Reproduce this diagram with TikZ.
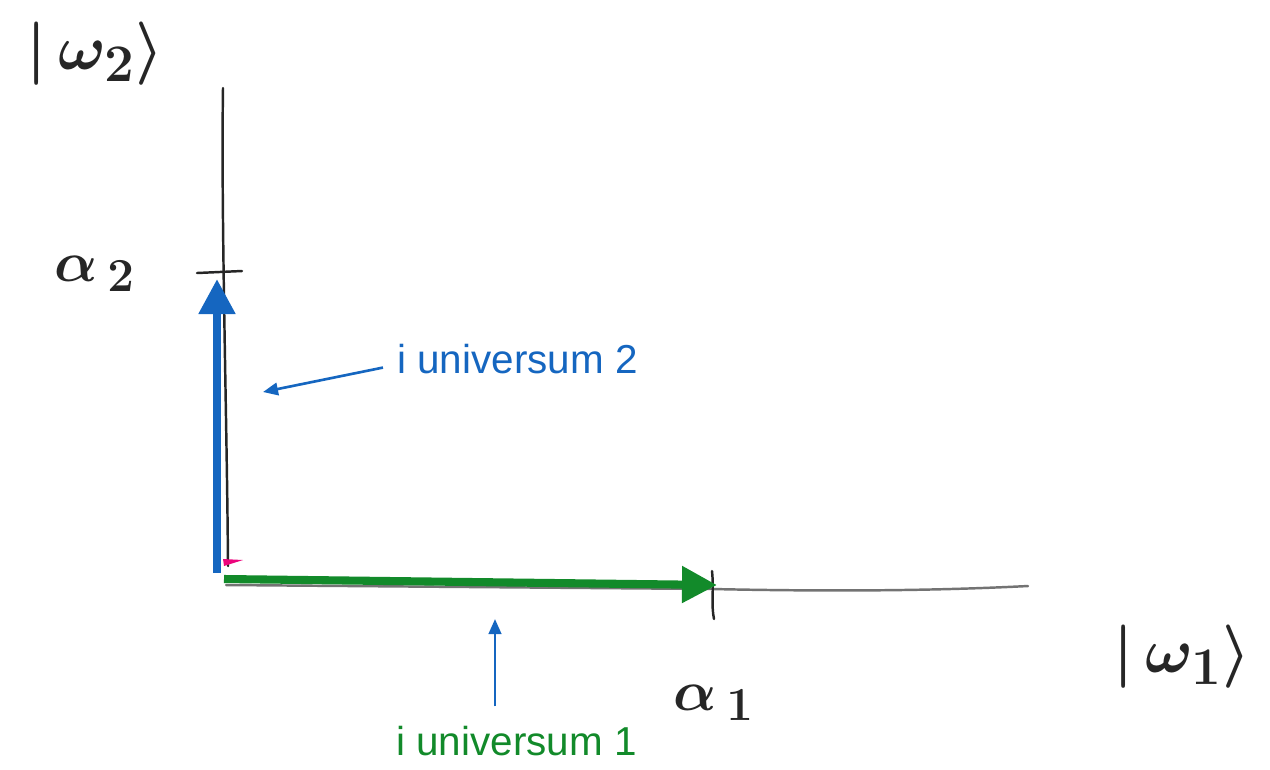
\documentclass[tikz,border=0pt]{standalone}
\usepackage{graphicx}
\usepackage{fontspec}
\newfontfamily\notefont{Liberation Sans}
\usetikzlibrary{arrows.meta}
\definecolor{uniblue}{RGB}{21,102,192}
\definecolor{unigreen}{RGB}{18,138,42}
\newcommand{\handtext}[2][1.45]{\scalebox{#1}{$#2$}}
\tikzset{
  axisline/.style={line width=1.4pt, black!85, line cap=round},
  flatline/.style={line width=1.4pt, black!55, line cap=round},
  vec/.style={line width=4.6pt, -{Triangle[length=0.7cm,width=0.7cm]}},
  note/.style={font=\notefont\fontsize{23}{27}\selectfont, inner sep=0pt, anchor=base west},
  pointer/.style={line width=1.5pt, uniblue, -{Triangle[length=0.3cm,width=0.25cm]}},
  hand/.style={font=\Huge\boldmath, inner sep=0pt, black!85},
}
\begin{document}
\begin{tikzpicture}[x=0.02cm, y=-0.02cm]
\useasboundingbox (0,0) rectangle (1270,769);
% Achsen
\coordinate (ytop) at (223,88);
\coordinate (ybot) at (228,566);
\coordinate (xleft) at (226,585);
\coordinate (xright) at (1028,586);
\draw[axisline] (ytop) .. controls (221,220) and (227,420) .. (ybot);
\draw[flatline] (xleft) -- (712,589) .. controls (850,592) and (950,590) .. (xright);
% Markierungen
\draw[axisline] (197,273) -- (242,271);
\draw[axisline] (712,571) .. controls (714,590) and (711,605) .. (714,619);
\fill[magenta!85!red] (223,559) -- (243,560) -- (224,566) -- cycle;
% Vektoren
\coordinate (O2) at (217,573);
\coordinate (A2) at (217,279);
\coordinate (O1) at (224,579);
\coordinate (A1) at (717,585);
\draw[vec, uniblue] (O2) -- (A2);
\draw[vec, unigreen] (O1) -- (A1);
% Beschriftungen
\node[hand] (w2) at (95,54) {\handtext{|\,\omega_2\rangle}};
\node[hand] (a2) at (95,274) {\handtext[1.3]{\alpha_{\,2}}};
\node[hand] (a1) at (714,703) {\handtext[1.3]{\alpha_{\,1}}};
\node[hand] (w1) at (1182,657) {\handtext{|\,\omega_1\rangle}};
\node[note, uniblue] (u2) at (397,373) {i universum 2};
\node[note, unigreen] (u1) at (396,755) {i universum 1};
\coordinate (t2) at (263,392);
\coordinate (t1) at (495,619);
\draw[pointer] ([shift={(-14,9)}]u2.west) -- (t2);
\draw[pointer] ([shift={(99,-19)}]u1.north west) -- (t1);
\end{tikzpicture}
\end{document}
